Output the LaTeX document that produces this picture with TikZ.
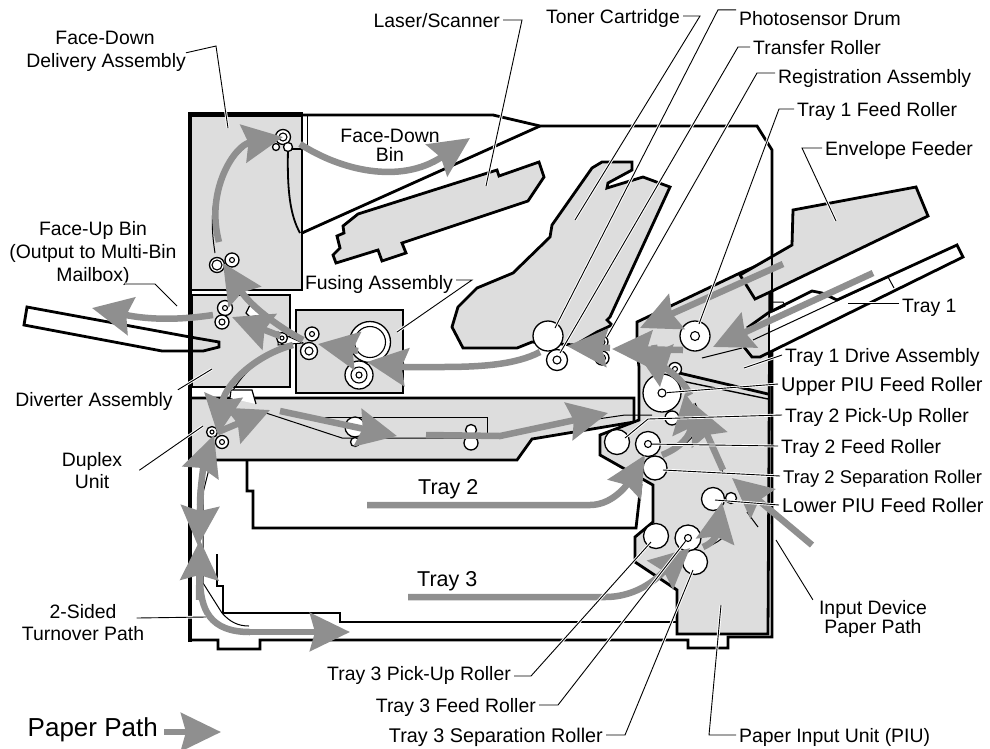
\documentclass[tikz,border=0pt]{standalone}
\usepackage{fontspec}
\setmainfont{Liberation Sans}
\usetikzlibrary{arrows.meta}
\definecolor{partGray}{RGB}{221,221,221}
\definecolor{pathGray}{RGB}{143,143,143}

\begin{document}
\begin{tikzpicture}[
  x=1pt, y=-1pt,
  part/.style={draw=black, fill=partGray, line width=2.8pt, line join=miter},
  wall/.style={draw=black, line width=2.8pt},
  fine/.style={draw=black, line width=1pt},
  roller/.style={circle, draw=black, fill=white, line width=1.3pt, inner sep=0pt},
  hub/.style={circle, draw=black, fill=white, line width=1.1pt, inner sep=0pt},
  paper/.style={draw=pathGray, line width=6.5pt,
    -{Stealth[length=40pt, width=38pt, inset=5pt, fill=pathGray]}},
  band/.style={draw=pathGray, line width=6.5pt},
  leader/.style={draw=black, line width=0.9pt,
    preaction={draw=white, line width=2.8pt}},
  lbl/.style={font=\fontsize{19.4}{20}\selectfont, anchor=west,
    inner xsep=3pt, inner ysep=0pt, text height=14pt, text depth=0pt},
  big/.style={lbl, font=\fontsize{21.5}{22}\selectfont}
]
\useasboundingbox (0,0) rectangle (990,748);

% --- Frame ---
\draw[wall] (303,115) -- (493,115) -- (540,126) -- (757,126) -- (772,150) -- (772,637)
  -- (728,637) -- (728,648) -- (688,648) -- (688,640) -- (260,640) -- (260,649)
  -- (218,649) -- (218,640) -- (190,640);
\draw[wall] (302,233) -- (540,126);
\draw[fine] (307,116) -- (307,149);

% --- Gray units ---
\draw[part] (190,116) rectangle (302,290);
\draw[part] (192,295) rectangle (290,387);
\draw[part] (296,310) rectangle (403,393);
\draw[part] (190,398) -- (634,398) -- (634,422) -- (532,439) -- (517,460) -- (190,460) -- cycle;
\draw[part] (637,322) -- (740,273) -- (770,260) -- (768,634) -- (677,634) -- (677,590)
  -- (635,562) -- (635,537) -- (653,522) -- (653,485) -- (600,455) -- (600,435)
  -- (639,420) -- (639,367) -- (637,350) -- cycle;

% --- Face-up bin ---
\fill[white] (27,307) -- (190,337) -- (190,351) -- (162,351) -- (24,325) -- cycle;
\draw[wall] (190,337) -- (27,307) -- (24,325) -- (162,351) -- (203,351) -- (219,347)
  -- (219,342) -- (190,337);
\draw[line width=4.6pt] (190,642) -- (190,114) -- (303,114);

% --- Face-down exit ---
\draw[wall, line width=1.8pt] (305,149) -- (288,149) .. controls (287,190) and (290,215) .. (300,233);

% --- Laser/scanner ---
\draw[part] (336,263) -- (333,255) -- (340,248) -- (337,236) -- (344,233) -- (343,226)
  -- (358,214) -- (497,170) -- (499,176) -- (539,162) -- (544,177) -- (528,201)
  -- (402,243) -- (406,253) -- (382,261) -- (378,250) -- cycle;

% --- Toner cartridge ---
\draw[part] (463,348) -- (452,327) -- (458,307) -- (477,288) -- (513,273) -- (550,237)
  -- (552,225) -- (592,168) -- (602,162) -- (632,162) -- (632,170) -- (608,183)
  -- (607,188) -- (643,177) -- (670,187) -- (610,317) -- (607,320) -- (612,325)
  -- (597,332) -- (575,345) -- (532,342) -- (517,348) -- cycle;

% --- Envelope feeder ---
\draw[part] (793,210) -- (916,187) -- (928,216) -- (770,292) -- (755,299) -- (740,275)
  -- (792,245) -- cycle;

% --- Tray 1 ---
\fill[white] (770,312) -- (812,291) -- (822,293) -- (837,300) -- (957,245) -- (963,257)
  -- (770,352) -- cycle;
\draw[wall] (747,328) -- (768,313) -- (812,291) -- (822,293) -- (837,300) -- (957,245)
  -- (963,257) -- (760,357) -- (752,357) -- (744,347);
\draw[fine] (753,340) -- (888,277) -- (894,288);
\draw[fine] (702,358) -- (742,348);
\draw[fine] (770,302) -- (783,302) -- (785,306) -- (772,312);
\draw[wall] (772,150) -- (772,300);

% --- Trays 2 and 3 ---
\draw[wall] (247,460) -- (247,491) -- (253,491) -- (253,528) -- (636,528) -- (641,484);
\draw[wall] (217,554) -- (217,586) -- (223,586) -- (223,613) -- (340,613) -- (340,622) -- (677,622);

% --- Fine guides ---
\draw[wall] (675,372) -- (768,394);
\draw[fine] (637,361) -- (672,373);
\draw[fine, line width=1.4pt] (672,379) -- (768,399);
\draw[fine] (210,465) -- (203,493) -- (203,583) -- (222,613) .. controls (230,622) and (238,626) .. (249,626);
\draw[fine] (215,253) .. controls (209,215) and (210,175) .. (250,143);
\draw[fine] (263,412) -- (342,438) -- (499,438) -- (570,423) -- (625,415) -- (652,415);
\draw[fine] (303,417) -- (487,417) -- (487,438);
\draw[fine] (695,403) .. controls (705,425) and (715,450) .. (723,473);
\draw[fine] (695,425) .. controls (696,440) and (685,445) .. (662,455);
\draw[fine] (747,512) -- (758,527);
\draw[fine] (705,548) .. controls (718,542) and (727,538) .. (726,527);
\draw[fine] (293,347) .. controls (265,352) and (245,370) .. (232,392);

% --- Diverter flaps ---
\draw[fill=white, line width=1.2pt] (246,313) -- (250,305) -- (262,315) -- (250,317) -- cycle;
\draw[fill=white, line width=1pt] (278,332) -- (303,343) -- (278,345) -- cycle;
\draw[fill=white, line width=1.2pt] (230,398) -- (231,390) -- (252,390) -- (256,404);

% --- Rollers ---
\foreach \nm/\x/\y/\d/\h in {
  fdA/283/137/15/8, fdC/276/147/7/0, fdD/288/147/9/0, fdE/217/265/15/10, fdF/232/260/14/5,
  dvA/225/308/15/5, dvB/222/322/14/6, dvC/282/338/11/4,
  fsA/312/334/14/5, fsB/309/351/17/8, fsC/370/342/41/31, fsD/359/375/28/16,
  drum/548/336/30/0, trans/557/360/21/8, regA/602/342/12/6, regB/602/358/14/7,
  tOne/695/336/30/9, piuU/662/393/38/8, piuS/675/369/13/5,
  tTwoX/672/418/14/0, tTwoP/617/442/25/0, tTwoF/648/444/25/7, tTwoS/655/468/24/0,
  piuL/713/499/23/0, piuM/731/498/11/0,
  tThrP/656/536/25/0, tThrF/688/538/26/7, tThrS/695/562/25/0,
  dupA/212/432/11/4, dupB/222/442/13/5,
  holeA/355/427/20/0, holeB/355/442/9/0, holeC/471/430/11/0, holeD/471/443/14/0}{
  \node[roller, minimum size=\d pt] (r\nm) at (\x,\y) {};
  \ifnum\h>0 \node[hub, minimum size=\h pt] (h\nm) at (r\nm) {}; \fi
}
\node[hub, minimum size=6pt] (hfsDi) at (rfsD) {};

% --- Paper path ---
\draw[paper] (300,144) .. controls (340,170) and (400,185) .. (470,138);
\draw[paper] (219,242) .. controls (205,190) and (235,145) .. (283,137);
\draw[paper] (303,340) .. controls (275,325) and (250,305) .. (223,263);
\draw[paper] (358,351) -- (318,344);
\draw[paper] (540,352) .. controls (515,365) and (480,367) .. (440,367) -- (405,367) -- (367,362);
\draw[paper] (280,336) -- (232,317);
\draw[paper] (213,315) .. controls (180,320) and (150,320) .. (92,308);
\draw[paper] (293,345) .. controls (255,355) and (225,385) .. (218,435);
\draw[paper] (218,432) -- (270,410);
\draw[paper] (280,411) -- (397,436);
\draw[paper] (426,435) -- (500,436) -- (608,413);
\draw[paper] (200,505) .. controls (200,485) and (205,460) .. (214,435);
\draw[paper] (201,490) -- (198,546);
\draw[band] (200,577) .. controls (200,610) and (210,632) .. (250,632);
\draw[paper] (199,600) -- (200,540);
\draw[paper] (250,632) -- (350,632);
\draw[paper] (367,505) -- (590,505) .. controls (615,505) and (630,480) .. (645,455);
\draw[paper] (408,597) -- (605,597) .. controls (640,597) and (660,575) .. (690,548);
\draw[paper] (703,547) .. controls (720,540) and (718,525) .. (722,502);
\draw[paper] (812,545) -- (732,478);
\draw[paper] (723,470) -- (693,403);
\draw[paper] (662,455) .. controls (680,448) and (692,435) .. (685,393);
\draw[band] (690,395) .. controls (680,372) and (650,358) .. (630,352);
\draw[paper] (683,350) -- (612,349);
\draw[paper] (654,345) -- (660,387);
\draw[paper] (783,264) -- (640,328);
\draw[paper] (873,273) -- (713,347);
\draw[paper] (610,348) -- (567,346);

% --- Labels ---
\node[lbl, anchor=center] (lFdTop) at (105,37) {Face-Down};
\node[lbl, anchor=east] (lFdDel) at (189,60) {Delivery Assembly};
\node[lbl, anchor=east] (lLaser) at (503,20) {Laser/Scanner};
\node[lbl, anchor=east] (lToner) at (683,16) {Toner Cartridge};
\node[lbl] (lDrum) at (736,18) {Photosensor Drum};
\node[lbl] (lTrans) at (750,47) {Transfer Roller};
\node[lbl] (lReg) at (775,76) {Registration Assembly};
\node[lbl] (lFeedA) at (794,109) {Tray 1 Feed Roller};
\node[lbl] (lEnv) at (822,148) {Envelope Feeder};
\node[lbl] (lTrayA) at (899,305) {Tray 1};
\node[lbl] (lDrive) at (782,355) {Tray 1 Drive Assembly};
\node[lbl, font=\fontsize{19.9}{20}\selectfont] (lPiuU) at (778,384) {Upper PIU Feed Roller};
\node[lbl] (lPickB) at (782,415) {Tray 2 Pick-Up Roller};
\node[lbl] (lFeedB) at (778,446) {Tray 2 Feed Roller};
\node[lbl, font=\fontsize{18.4}{20}\selectfont] (lSepB) at (780,476) {Tray 2 Separation Roller};
\node[lbl, font=\fontsize{19.9}{20}\selectfont] (lPiuL) at (779,505) {Lower PIU Feed Roller};
\node[lbl, anchor=center] (lInA) at (873,607) {Input Device};
\node[lbl, anchor=center] (lInB) at (873,626) {Paper Path};
\node[lbl, anchor=center] (lBinA) at (390,135) {Face-Down};
\node[lbl, anchor=center] (lBinB) at (390,154) {Bin};
\node[lbl, anchor=east] (lFus) at (456,282) {Fusing Assembly};
\node[lbl, anchor=center] (lUpA) at (93,228) {Face-Up Bin};
\node[lbl, anchor=center] (lUpB) at (93,251) {(Output to Multi-Bin};
\node[lbl, anchor=center] (lUpC) at (93,274) {Mailbox)};
\node[lbl, anchor=center] (lDiv) at (94,399) {Diverter Assembly};
\node[lbl, anchor=center] (lDupA) at (92,459) {Duplex};
\node[lbl, anchor=center] (lDupB) at (92,481) {Unit};
\node[lbl, anchor=center] (lTurnA) at (83,611) {2-Sided};
\node[lbl, anchor=center] (lTurnB) at (83,633) {Turnover Path};
\node[lbl, anchor=east] (lPickC) at (514,673) {Tray 3 Pick-Up Roller};
\node[lbl, anchor=east] (lFeedC) at (539,705) {Tray 3 Feed Roller};
\node[lbl, anchor=east, font=\fontsize{19.8}{20}\selectfont] (lSepC) at (606,735) {Tray 3 Separation Roller};
\node[lbl] (lPiu) at (736,735) {Paper Input Unit (PIU)};
\node[big] (lTrayB) at (415,487) {Tray 2};
\node[big] (lTrayC) at (414,579) {Tray 3};
\node[lbl, font=\fontsize{26}{27}\selectfont, anchor=east] (lKey) at (161,729) {Paper Path};

% --- Leader ends ---
\coordinate (pFd) at (228,128);
\coordinate (pLaser) at (486,186);
\coordinate (pToner) at (575,220);
\coordinate (pDrum) at (555,328);
\coordinate (pTrans) at (560,353);
\coordinate (pReg) at (607,337);
\coordinate (pFeedA) at (699,324);
\coordinate (pEnv) at (836,221);
\coordinate (pTrayA) at (848,303);
\coordinate (pDrive) at (744,368);
\coordinate (pFus) at (397,332);
\coordinate (pUp) at (177,306);
\coordinate (pDiv) at (212,369);
\coordinate (pDup) at (203,426);
\coordinate (pTurn) at (206,617);
\coordinate (pIn) at (776,540);
\coordinate (pKey) at (164,732);
\coordinate (pPickC) at (651,542);
\coordinate (pSepC) at (693,570);

% --- Leaders ---
\draw[leader] (lFdDel.north east) ++(-3,0) -- (216,46) -- (pFd);
\draw[leader] (lLaser.east) -- ++(19,0) -- (pLaser);
\draw[leader] (lToner.east) -- ++(17,0) -- (pToner);
\draw[leader] (lDrum.north west) ++(0,-1) -- ++(-18,0) -- (pDrum);
\draw[leader] (lTrans.west) -- ++(-12,0) -- (pTrans);
\draw[leader] (lReg.west) ++(0,-3) -- ++(-18,0) -- (pReg);
\draw[leader] (lFeedA.west) -- ++(-15,0) -- (pFeedA);
\draw[leader] (lEnv.west) -- ++(-20,0) -- (pEnv);
\draw[leader] (lTrayA.west) ++(0,-2) -- (pTrayA);
\draw[leader] (lDrive.west) -- (pDrive);
\draw[leader] (lPiuU.west) -- (hpiuU);
\draw[leader] (lPickB.west) -- (648,419) -- (625,438);
\draw[leader] (lFeedB.west) -- (htTwoF);
\draw[leader] (lSepB.west) -- (663,470);
\draw[leader] (lPiuL.west) -- (715,500);
\draw[leader] (lInA.north west) ++(-3,0) -- (pIn);
\draw[leader] (lFus.east) ++(0,-2) -- ++(16,0) -- (pFus);
\draw[leader] (lUpC.east) ++(-8,10) -- (155,284) -- (pUp);
\draw[leader] (lDiv.north east) ++(2,-2) -- (pDiv);
\draw[leader] (lDupA.south east) ++(14,4) -- (pDup);
\draw[leader] (lTurnA.east) ++(17,7) -- (pTurn);
\draw[leader] (lPickC.east) ++(0,3) -- ++(17,0) -- (pPickC);
\draw[leader] (lFeedC.east) -- ++(19,0) -- (htThrF);
\draw[leader] (lSepC.east) -- ++(19,0) -- (pSepC);
\draw[leader] (lPiu.west) -- ++(-27,0) -- (721,605);

% --- Key ---
\draw[paper] (pKey) -- (221,732);

\end{tikzpicture}
\end{document}
